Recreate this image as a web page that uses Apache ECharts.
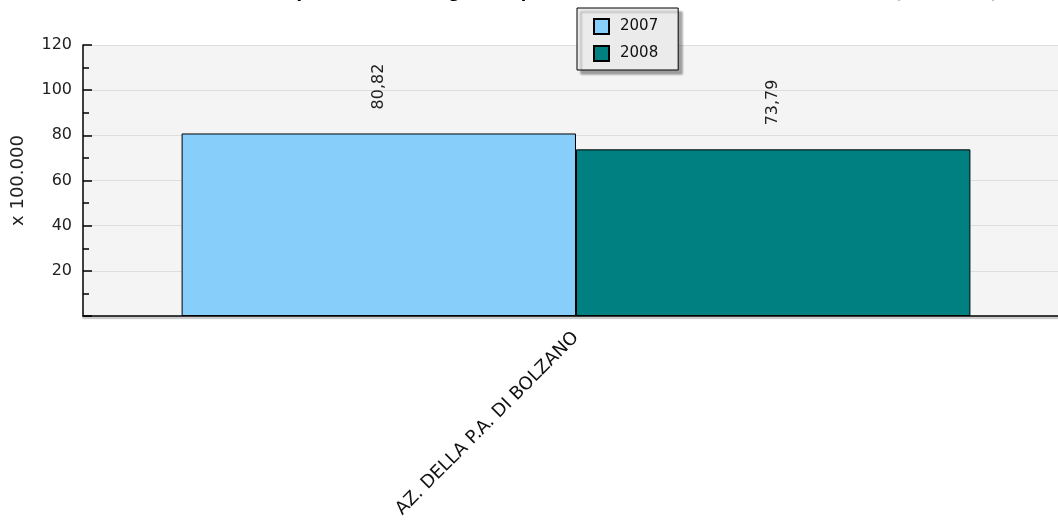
<!DOCTYPE html>
<html><head><meta charset="utf-8">
<script src="https://cdn.jsdelivr.net/npm/echarts@6/dist/echarts.min.js"></script>
<style>html,body{margin:0;padding:0;background:#fff}#c{width:1058px;height:526px}</style>
</head><body><div id="c"></div>
<script>
const titleText = "Spesa sanitaria regionale per farmaci nelle aziende sanitarie locali (x 100.000)";
const categories = ["AZ. DELLA P.A. DI BOLZANO"];
const seriesNames = ["2007", "2008"];
const values2007 = [80.82];
const values2008 = [73.79];
const yTicks = [20, 40, 60, 80, 100, 120];
const yAxisName = "x 100.000";

const font = "DejaVu Sans";
const fmt = v => v.toFixed(2).replace('.', ',');
const chart = echarts.init(document.getElementById('c'));
chart.setOption({
  animation: false,
  textStyle: { fontFamily: font },
  title: { text: titleText, left: 285, top: -14, padding: 0,
    textStyle: { fontFamily: font, fontSize: 16, fontWeight: 'bold', color: '#000' } },
  legend: {
    orient: 'vertical', left: 577, top: 8, padding: [10, 20, 8, 16],
    backgroundColor: '#ebebeb', borderColor: '#000', borderWidth: 1,
    shadowColor: 'rgba(0,0,0,0.35)', shadowOffsetX: 4, shadowOffsetY: 4, shadowBlur: 2,
    itemWidth: 15, itemHeight: 15, itemGap: 10, icon: 'rect',
    textStyle: { fontFamily: font, fontSize: 15, color: '#111', padding: [0, 0, 0, 6] },
    data: seriesNames
  },
  grid: { left: 83, width: 986, top: 45, height: 271, backgroundColor: '#f4f4f4', show: true, borderWidth: 0,
    outerBoundsMode: 'none', containLabel: false },
  xAxis: {
    type: 'category', data: categories,
    axisLine: { lineStyle: { color: '#000', width: 1.5, shadowColor: 'rgba(0,0,0,0.3)', shadowOffsetY: 2, shadowBlur: 1 } },
    axisTick: { show: false },
    axisLabel: { rotate: 45, fontFamily: font, fontSize: 18, color: '#111', margin: 19 }
  },
  yAxis: {
    type: 'value', min: 0, max: 120, interval: 20,
    name: yAxisName, nameLocation: 'middle', nameGap: 56, nameRotate: 90,
    nameTextStyle: { fontFamily: font, fontSize: 18, color: '#222' },
    axisLine: { show: true, lineStyle: { color: '#000', width: 1.5 } },
    axisTick: { show: true, inside: true, length: 9, lineStyle: { color: '#000', width: 1.5 } },
    minorTick: { show: true, splitNumber: 2, length: 6, lineStyle: { color: '#000', width: 1.5 } },
    splitLine: { show: true, lineStyle: { color: '#dedede', width: 1 } },
    axisLabel: { fontFamily: font, fontSize: 16, color: '#222', margin: 11,
      formatter: v => (yTicks.indexOf(v) >= 0 ? String(v) : '') }
  },
  series: [
    { name: seriesNames[0], type: 'bar', data: values2007, barGap: '0%', barCategoryGap: '20%',
      itemStyle: { color: '#87cefa', borderColor: '#000', borderWidth: 1 },
      label: { show: true, position: 'top', rotate: 90, align: 'left', verticalAlign: 'middle', distance: 24,
        fontFamily: font, fontSize: 16, color: '#222', formatter: p => fmt(p.value) } },
    { name: seriesNames[1], type: 'bar', data: values2008,
      itemStyle: { color: '#008080', borderColor: '#000', borderWidth: 1 },
      label: { show: true, position: 'top', rotate: 90, align: 'left', verticalAlign: 'middle', distance: 24,
        fontFamily: font, fontSize: 16, color: '#222', formatter: p => fmt(p.value) } }
  ]
});
</script></body></html>
